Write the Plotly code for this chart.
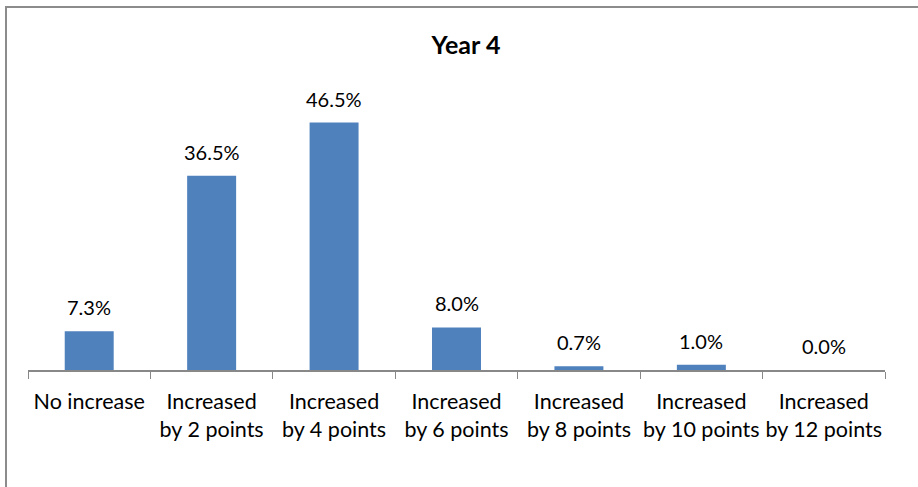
import plotly.graph_objects as go

categories = ["No increase", "Increased<br>by 2 points", "Increased<br>by 4 points",
              "Increased<br>by 6 points", "Increased<br>by 8 points",
              "Increased<br>by 10 points", "Increased<br>by 12 points"]
values = [7.3, 36.5, 46.5, 8.0, 0.7, 1.0, 0.0]
title = "Year 4"

W, H = 918, 487
L, R, T, B = 28, 33, 104, 117
pw, ph = W - L - R, H - T - B

fig = go.Figure()
fig.add_trace(go.Bar(x=categories, y=values, marker_color="#4F81BD",
                     marker_line_width=0, width=0.4, showlegend=False))

for c, v in zip(categories, values):
    fig.add_annotation(x=c, y=v, text=f"{v:.1f}%", showarrow=False,
                       yanchor="bottom", yshift=10,
                       font=dict(family="Lato", size=20, color="#000"))

def px(x):
    return (x - L) / pw

def py(y):
    return (H - B - y) / ph

fig.add_shape(type="rect", xref="paper", yref="paper",
              x0=px(6), x1=px(1000), y0=py(7), y1=py(700),
              line=dict(color="#8C8C8C", width=2), fillcolor="rgba(0,0,0,0)")

fig.update_layout(
    width=W, height=H,
    margin=dict(l=L, r=R, t=T, b=B, autoexpand=False),
    paper_bgcolor="white", plot_bgcolor="white",
    title=dict(text=f"<b>{title}</b>", x=466 / W, xanchor="center",
               y=1 - 45 / H, yanchor="middle",
               font=dict(family="Lato", size=25, color="#000")),
    bargap=0.6,
)
fig.update_xaxes(type="category", tickson="boundaries", ticks="outside",
                 ticklen=7, tickcolor="#888", showline=True, linecolor="#888",
                 linewidth=2, tickfont=dict(family="Lato", size=21.5, color="#000"),
                 tickangle=0, ticklabelstandoff=11, automargin=False,
                 showgrid=False, range=[-0.5, 6.5])
fig.update_yaxes(range=[0, 50], visible=False, showgrid=False, automargin=False)

fig.write_html("out.html", config={"displayModeBar": False},
               post_script="document.body.style.margin='0';document.body.style.overflow='hidden';")
